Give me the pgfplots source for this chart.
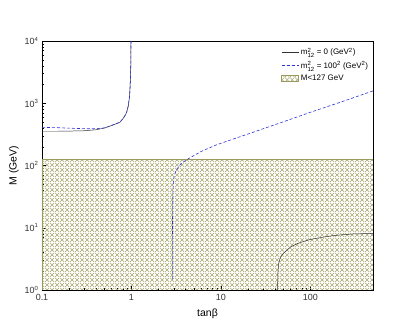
\documentclass[border=0pt]{standalone}
\usepackage{amsmath}
\usepackage{fontspec}
\setmainfont{Liberation Sans}
\usepackage{pgfplots}
\pgfplotsset{compat=1.18}
\usetikzlibrary{patterns.meta}
\definecolor{hatch}{HTML}{A4A46C}
\definecolor{hatchedge}{HTML}{9A9A5A}
\definecolor{dblue}{HTML}{3030D8}

\tikzdeclarepattern{
  name=xdiamond,
  type=uncolored,
  bounding box={(0,0) and (5bp,5bp)},
  tile size={(5bp,5bp)},
  code={
    \draw[line width=0.55bp] (0,0) -- (5bp,5bp);
    \draw[line width=0.55bp] (0,5bp) -- (5bp,0);
  }
}
\newcommand{\mtt}{$\text{m}^{\text{2}}_{\text{12}}$}

\begin{document}
\begin{tikzpicture}
\begin{axis}[
  scale only axis,
  width=331bp, height=249bp,
  xmode=log, ymode=log,
  xmin=0.1, xmax=500, ymin=1, ymax=10000,
  xtick={0.1,1,10,100},
  xticklabels={0.1,1,10,100},
  ytick={1,10,100,1000,10000},
  yticklabels={10\textsuperscript{0},10\textsuperscript{1},10\textsuperscript{2},10\textsuperscript{3},10\textsuperscript{4}},
  tick pos=left,
  tick align=inside,
  major tick length=4bp, minor tick length=2bp,
  tick style={black, line width=0.4pt},
  ticklabel style={font=\fontsize{9}{10}\selectfont, text=black!80},
  xticklabel style={yshift=-1bp},
  xlabel={tanβ}, ylabel={M (GeV)},
  label style={font=\fontsize{10.5}{12}\selectfont},
  xlabel style={yshift=-1bp},
  ylabel style={yshift=-1bp},
  axis line style={line width=0.8pt},
  legend style={draw=none, fill=white, font=\fontsize{8}{9}\selectfont,
    at={(0.995,0.985)}, anchor=north east, row sep=1bp,
    inner sep=1bp},
  legend cell align=left,
]
\addplot[line width=0.5pt, black!80] coordinates {
  (0.1,355) (0.15,355) (0.2,357) (0.3,362) (0.4,375) (0.5,400) (0.575,430)
  (0.65,458) (0.743,495) (0.8,560) (0.85,640) (0.883,716) (0.92,900)
  (0.95,1250) (0.962,1700) (0.975,2600) (0.982,4000) (0.986,6500) (0.988,10000)
};
\addlegendentry{\mtt{} = 0 (GeV\textsuperscript{2})}
\addplot[line width=0.6pt, dblue, dashed, dash pattern=on 3bp off 2bp] coordinates {
  (0.1,410) (0.15,405) (0.2,398) (0.3,390) (0.4,390) (0.5,402) (0.575,432)
  (0.65,460) (0.743,497) (0.8,562) (0.85,642) (0.883,718) (0.92,905)
  (0.95,1260) (0.962,1710) (0.975,2620) (0.982,4050) (0.986,6600) (0.988,10000)
};
\addlegendentry{\mtt{} = 100\textsuperscript{2} (GeV\textsuperscript{2})}
\addplot[pattern={xdiamond}, pattern color=hatch, draw=hatchedge, line width=0.6pt, area legend] coordinates {
  (0.1,1) (500,1) (500,127) (0.1,127) (0.1,1)
};
\addlegendentry{M<127 GeV}
\addplot[line width=0.6pt, dblue, dashed, dash pattern=on 3bp off 2bp, forget plot] coordinates {
  (2.86,1.5) (2.865,5) (2.88,20) (2.9,35) (2.93,52) (3.0,68) (3.1,78) (3.2,86)
  (3.5,103) (4.0,120) (4.5,133) (6,168) (9,216) (15,278) (21,328) (50,505)
  (100,716) (200,1000) (350,1320) (500,1580)
};
\addplot[line width=0.5pt, black!80, forget plot] coordinates {
  (43,1) (43.2,1.8) (44,2.6) (46,3.3) (50,3.9) (60,4.9) (70,5.5) (83,6.0)
  (100,6.5) (150,7.2) (200,7.6) (300,7.95) (500,8.1)
};
\end{axis}
\draw[draw=none] (current axis.south west) ++(-42bp,-42bp) rectangle ++(415bp,332bp);
\end{tikzpicture}
\end{document}
